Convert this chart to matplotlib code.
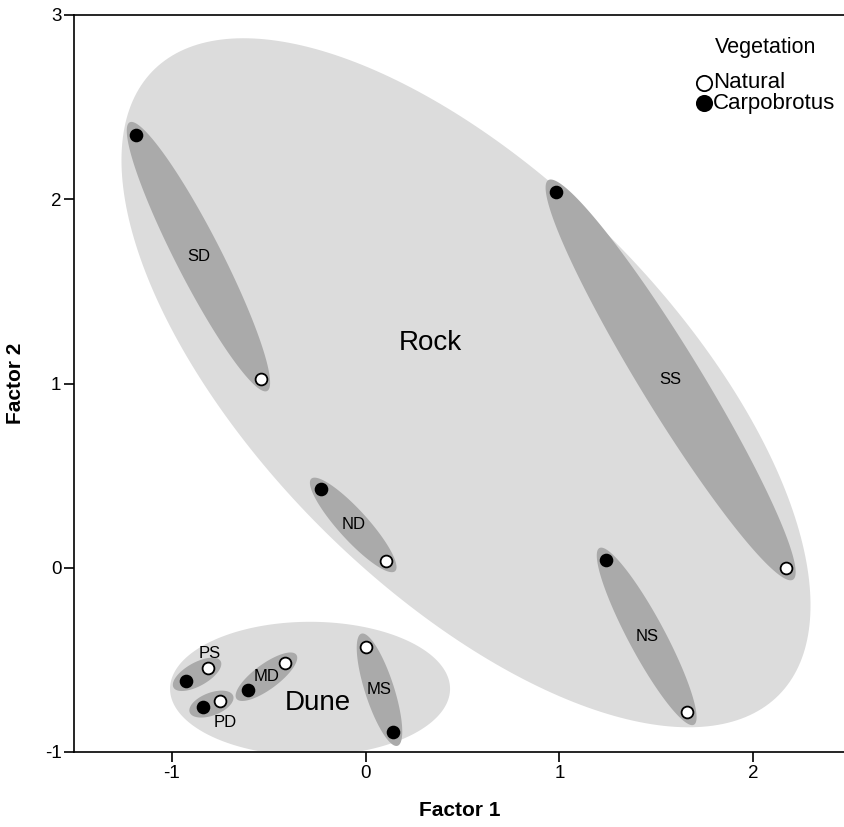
import numpy as np
import matplotlib
matplotlib.use("Agg")
import matplotlib.pyplot as plt
from matplotlib.patches import Polygon

plt.rcParams["font.family"] = ["Liberation Sans", "DejaVu Sans"]

# Site scores on the first two factors
sites = ["SD", "SS", "ND", "NS", "MS", "PS", "MD", "PD"]
habitat = ["Rock", "Rock", "Rock", "Rock", "Dune", "Dune", "Dune", "Dune"]
natural_x = [-0.540, 2.166, 0.104, 1.659, 0.001, -0.810, -0.415, -0.750]
natural_y = [1.027, 0.000, 0.038, -0.785, -0.430, -0.544, -0.517, -0.722]
carpo_x = [-1.183, 0.980, -0.231, 1.240, 0.143, -0.927, -0.607, -0.839]
carpo_y = [2.350, 2.039, 0.427, 0.040, -0.894, -0.613, -0.666, -0.758]

x_ticks = [-1, 0, 1, 2]
y_ticks = [-1, 0, 1, 2, 3]

LIGHT = "#dcdcdc"
DARK = "#aaaaaa"

fig = plt.figure(figsize=(8.45, 8.27), dpi=100)
ax = fig.add_axes([74 / 845, 75 / 827, 1 - 74 / 845, 737 / 827])
ax.set_xlim(-1.503, 2.472)
ax.set_ylim(-1, 3)


def screen_ellipse(center, a_px, b_px, angle_deg, **kw):
    """Ellipse with axes given in screen pixels, placed at a data-space centre."""
    cx, cy = ax.transData.transform(center)
    t = np.linspace(0, 2 * np.pi, 300)
    th = np.deg2rad(angle_deg)
    ex = a_px * np.cos(t)
    ey = b_px * np.sin(t)
    px = cx + ex * np.cos(th) - ey * np.sin(th)
    py = cy + ex * np.sin(th) + ey * np.cos(th)
    pts = ax.transData.inverted().transform(np.column_stack([px, py]))
    patch = Polygon(pts, closed=True, **kw)
    ax.add_patch(patch)
    return patch


# Habitat envelopes
screen_ellipse((0.518, 1.004), 442, 205, -45, facecolor=LIGHT, edgecolor="none", zorder=1)
screen_ellipse((-0.286, -0.657), 140, 67, 0, facecolor=LIGHT, edgecolor="none", zorder=1)
ax.text(0.332, 1.218, "Rock", fontsize=20, ha="center", va="center", zorder=3)
ax.text(-0.245, -0.733, "Dune", fontsize=20, ha="center", va="center", zorder=3)

# Per-site ellipses joining the natural and Carpobrotus plots
label_offsets = {"PS": (9, 15), "PD": (10, -13)}
for i, s in enumerate(sites):
    p1 = ax.transData.transform((natural_x[i], natural_y[i]))
    p2 = ax.transData.transform((carpo_x[i], carpo_y[i]))
    d = np.hypot(*(p2 - p1))
    ang = np.degrees(np.arctan2(p2[1] - p1[1], p2[0] - p1[0]))
    mid = ax.transData.inverted().transform((p1 + p2) / 2)
    screen_ellipse(tuple(mid), d / 2 + 14, (21 + 0.09 * d) / 2, ang,
                   facecolor=DARK, edgecolor="none", zorder=2)
    ax.annotate(s, xy=tuple(mid), xytext=label_offsets.get(s, (0, 0)),
                textcoords="offset points", fontsize=12, ha="center",
                va="center", zorder=3)

ax.plot(natural_x, natural_y, "o", ms=8.5, mfc="white", mec="black", mew=1.3,
        ls="none", zorder=4)
ax.plot(carpo_x, carpo_y, "o", ms=8.5, mfc="black", mec="black", mew=1.3,
        ls="none", zorder=4)

ax.set_xticks(x_ticks)
ax.set_yticks(y_ticks)
ax.set_xticklabels([str(v) for v in x_ticks])
ax.set_yticklabels([str(v) for v in y_ticks])
ax.tick_params(direction="out", length=7, width=1.2, labelsize=13.5, pad=2)
for side in ["left", "bottom", "top"]:
    ax.spines[side].set_linewidth(1.2)
ax.spines["right"].set_visible(False)

ax.set_xlabel("Factor 1", fontsize=15, fontweight="bold", labelpad=14)
ax.set_ylabel("Factor 2", fontsize=15, fontweight="bold", labelpad=14)

# Legend for vegetation type, laid out in figure pixels
W, H = 845, 827
fig.text(766 / W, 1 - 47 / H, "Vegetation", fontsize=15.5, ha="center", va="center")
legend_rows = [("Natural", "white", 83), ("Carpobrotus", "black", 103)]
for label, face, ypix in legend_rows:
    fig.lines.append(plt.Line2D([704 / W], [1 - ypix / H], marker="o", ls="none",
                                ms=11, mfc=face, mec="black", mew=1.3,
                                transform=fig.transFigure, figure=fig))
    fig.text(713 / W, 1 - ypix / H, label, fontsize=16, ha="left", va="center")

fig.savefig("out.png", dpi=100)
